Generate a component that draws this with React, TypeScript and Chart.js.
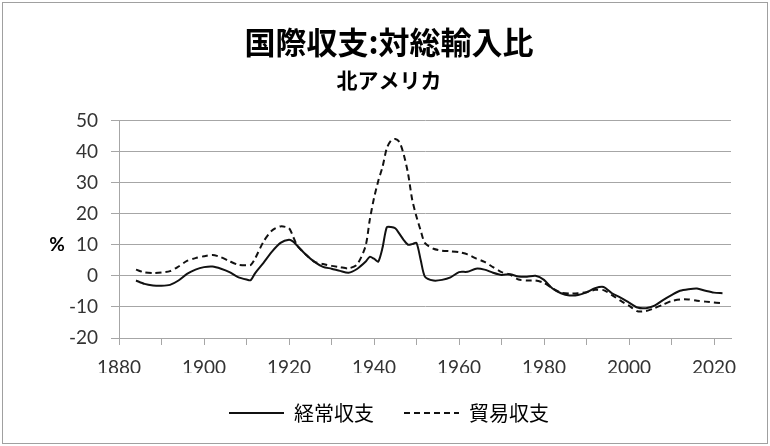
import React, { useEffect, useRef } from 'react';
import { Chart, registerables } from 'chart.js';

Chart.register(...registerables);

const chartTitle = '国際収支:対総輸入比';
const chartSubtitle = '北アメリカ';
const seriesNames = ['経常収支', '貿易収支'];
const yUnit = '%';

const years = [
  1884, 1886, 1888, 1890, 1892, 1894, 1896, 1898, 1900, 1902, 1904, 1906, 1908, 1910, 1911, 1912,
  1914, 1916, 1918, 1920, 1921, 1922, 1924, 1926, 1928, 1930, 1932, 1934, 1936, 1938, 1939, 1940,
  1941, 1942, 1943, 1944, 1945, 1946, 1947, 1948, 1949, 1950, 1951, 1952, 1954, 1956, 1958, 1960,
  1962, 1964, 1966, 1968, 1970, 1972, 1974, 1976, 1978, 1980, 1982, 1984, 1986, 1988, 1990, 1992,
  1994, 1996, 1998, 2000, 2002, 2004, 2006, 2008, 2010, 2012, 2014, 2016, 2018, 2020, 2022,
];

const currentAccount = [
  -1.5, -2.6, -3.1, -3.2, -2.9, -1.5, 0.6, 2.0, 2.8, 3.0, 2.3, 1.2, -0.4, -1.2, -1.4, 0.8,
  4.2, 7.8, 10.6, 11.6, 11.0, 9.6, 6.8, 4.5, 2.9, 2.3, 1.6, 1.0, 2.2, 4.5, 6.1, 5.5,
  4.6, 9.0, 15.6, 15.7, 15.3, 13.5, 11.5, 10.0, 10.2, 10.6, 5.0, -0.3, -1.5, -1.3, -0.5, 1.2,
  1.3, 2.3, 2.0, 1.0, 0.3, 0.5, -0.2, -0.3, 0.0, -1.3, -4.1, -5.6, -6.3, -6.2, -5.3, -4.0,
  -3.6, -5.6, -7.0, -8.6, -10.2, -10.4, -9.6, -7.8, -6.2, -4.8, -4.3, -4.1, -4.8, -5.4, -5.6,
];

const tradeBalance = [
  2.0, 1.1, 0.9, 1.1, 1.5, 3.0, 4.8, 5.7, 6.3, 6.7, 6.0, 4.7, 3.6, 3.4, 3.5, 5.5,
  11.0, 14.6, 15.9, 15.3, 12.5, 9.6, 6.8, 4.5, 3.8, 3.2, 2.8, 2.4, 3.6, 9.5, 18.0, 25.0,
  30.5, 35.0, 41.0, 43.5, 44.0, 43.0, 39.0, 33.0, 24.4, 19.0, 14.5, 10.5, 8.7, 8.1, 7.9, 7.6,
  6.9, 5.6, 4.5, 2.8, 1.2, 0.4, -1.2, -1.5, -1.5, -2.3, -4.0, -5.4, -5.7, -5.6, -5.3, -4.5,
  -4.6, -6.2, -8.0, -9.6, -11.4, -11.3, -10.4, -9.3, -8.1, -7.6, -7.6, -8.0, -8.3, -8.6, -8.8,
];

const xMin = 1880;
const xMax = 2024;
const yMin = -20;
const yMax = 50;

const gridColor = '#a6a6a6';
const tickFont = { family: 'Lato, "Liberation Sans", sans-serif', size: 19 };
const cjkFamily = '"Noto Sans CJK JP", "Noto Sans", sans-serif';

const framePlugin = {
  id: 'frameAndUnit',
  afterDraw(chart: any) {
    const { ctx, chartArea } = chart;
    ctx.save();
    ctx.strokeStyle = '#a0a0a0';
    ctx.lineWidth = 1;
    ctx.strokeRect(2.5, 2.5, chart.width - 5, chart.height - 5);
    ctx.font = 'bold 19px Lato, "Liberation Sans", sans-serif';
    ctx.fillStyle = '#000';
    ctx.textAlign = 'center';
    ctx.textBaseline = 'middle';
    ctx.fillText(yUnit, chartArea.left - 62, (chartArea.top + chartArea.bottom) / 2 + 16);
    ctx.restore();
  },
};

export default function App() {
  const canvasRef = useRef<HTMLCanvasElement | null>(null);

  useEffect(() => {
    document.body.style.margin = '0';
    const canvas = canvasRef.current;
    if (!canvas) return;
    const chart = new Chart(canvas, {
      type: 'line',
      data: {
        datasets: [
          {
            label: seriesNames[0],
            data: years.map((yr, i) => ({ x: yr, y: currentAccount[i] })),
            borderColor: '#111',
            backgroundColor: '#111',
            borderWidth: 2,
            pointRadius: 0,
            tension: 0.25,
            fill: false,
          },
          {
            label: seriesNames[1],
            data: years.map((yr, i) => ({ x: yr, y: tradeBalance[i] })),
            borderColor: '#111',
            backgroundColor: '#111',
            borderWidth: 2,
            borderDash: [6, 4],
            pointRadius: 0,
            tension: 0.25,
            fill: false,
          },
        ],
      },
      options: {
        responsive: false,
        animation: false,
        devicePixelRatio: 1,
        layout: { padding: { left: 47, right: 39, top: 0, bottom: 13 } },
        plugins: {
          title: {
            display: true,
            text: chartTitle,
            color: '#000',
            font: { family: cjkFamily, size: 31, weight: 'bold' },
            padding: { top: 24, bottom: 0 },
          },
          subtitle: {
            display: true,
            text: chartSubtitle,
            color: '#000',
            font: { family: cjkFamily, size: 21, weight: 'bold' },
            padding: { top: 6, bottom: 28 },
          },
          legend: {
            display: true,
            position: 'bottom',
            labels: {
              usePointStyle: true,
              pointStyle: 'line',
              pointStyleWidth: 55,
              padding: 30,
              color: '#000',
              font: { family: cjkFamily, size: 20 },
              generateLabels: (ch: any) => {
                const base = Chart.defaults.plugins.legend.labels.generateLabels(ch);
                return base.map((item: any) => {
                  const ds = ch.data.datasets[item.datasetIndex];
                  return {
                    ...item,
                    lineDash: ds.borderDash || [],
                    lineWidth: ds.borderWidth,
                    strokeStyle: ds.borderColor,
                    fillStyle: ds.borderColor,
                    pointStyle: 'line',
                  };
                });
              },
            },
          },
          tooltip: { enabled: false },
        },
        scales: {
          x: {
            type: 'linear',
            min: xMin,
            max: xMax,
            afterFit: (axis: any) => {
              axis.height = 35;
            },
            grid: {
              drawOnChartArea: false,
              drawTicks: true,
              tickLength: 7,
              color: gridColor,
            },
            border: { color: gridColor },
            ticks: {
              stepSize: 10,
              includeBounds: false,
              autoSkip: false,
              maxRotation: 0,
              padding: 11,
              color: '#333',
              font: tickFont,
              callback: (v: any) => (Number(v) % 20 === 0 ? String(v) : ''),
            },
          },
          y: {
            min: yMin,
            max: yMax,
            afterFit: (axis: any) => {
              axis.width = 72;
            },
            grid: {
              color: gridColor,
              tickLength: 8,
            },
            border: { color: gridColor },
            ticks: {
              stepSize: 10,
              padding: 13,
              color: '#333',
              font: tickFont,
            },
          },
        },
      },
      plugins: [framePlugin],
    });
    return () => chart.destroy();
  }, []);

  return (
    <div style={{ width: 770, height: 446 }}>
      <canvas ref={canvasRef} width={770} height={446} />
    </div>
  );
}
